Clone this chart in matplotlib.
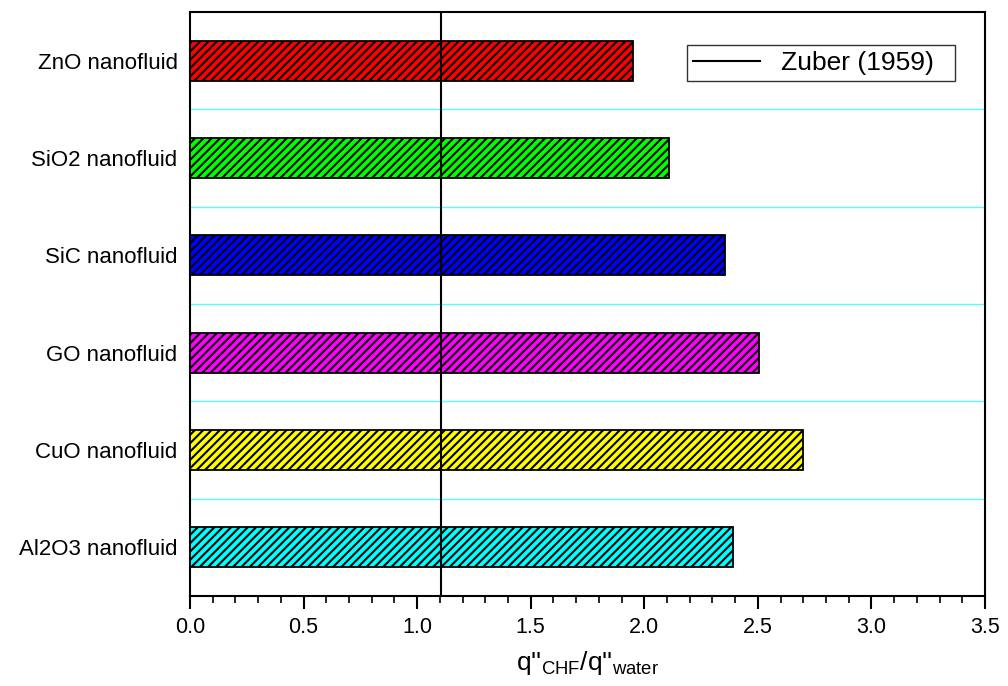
import matplotlib
matplotlib.use('Agg')
import matplotlib.pyplot as plt
from matplotlib.ticker import MultipleLocator

plt.rcParams['font.family'] = ['Liberation Sans', 'DejaVu Sans']
plt.rcParams['mathtext.fontset'] = 'custom'
plt.rcParams['mathtext.rm'] = 'Liberation Sans'
plt.rcParams['hatch.linewidth'] = 1.5

# data (top to bottom as drawn)
fluids = ['ZnO nanofluid', 'SiO2 nanofluid', 'SiC nanofluid',
          'GO nanofluid', 'CuO nanofluid', 'Al2O3 nanofluid']
chf_ratio = [1.95, 2.11, 2.355, 2.505, 2.70, 2.39]
bar_colors = ['#FF0000', '#00FF00', '#0000FF', '#FF00FF', '#FFFF00', '#00FFFF']
zuber = 1.105

fig = plt.figure(figsize=(10.08, 6.86), dpi=100)
ax = fig.add_axes([190/1008, 1 - 596/686, 795/1008, 584/686])

pos = list(range(len(fluids)))
ax.barh(pos, chf_ratio, height=0.41, color=bar_colors, edgecolor='black',
        linewidth=1.3, hatch='////', zorder=3)

# cyan separators between categories
for i in range(len(fluids) - 1):
    ax.axhline(i + 0.5, color='#55FFFF', linewidth=1.0, zorder=1)

ax.axvline(zuber, color='black', linewidth=1.5, zorder=4, label='Zuber (1959)  ')

ax.set_xlim(0, 3.5)
ax.set_ylim(len(fluids) - 0.5, -0.5)
ax.set_yticks(pos)
ax.set_yticklabels(fluids, fontsize=16)
ax.xaxis.set_major_locator(MultipleLocator(0.5))
ax.xaxis.set_minor_locator(MultipleLocator(0.1))
ax.xaxis.set_major_formatter(matplotlib.ticker.FormatStrFormatter('%.1f'))
ax.tick_params(axis='x', which='major', direction='out', length=9, width=1.5,
               labelsize=15.5, pad=6)
ax.tick_params(axis='x', which='minor', direction='out', length=5, width=1.2)
ax.tick_params(axis='y', length=0, pad=9)

for sp in ax.spines.values():
    sp.set_linewidth(1.5)

ax.set_xlabel(r"q''$_{\mathrm{CHF}}$/q''$_{\mathrm{water}}$", fontsize=19, labelpad=8)

leg = ax.legend(loc='upper left', bbox_to_anchor=(687/1008, 1 - 45/686),
                bbox_transform=fig.transFigure, fontsize=19, fancybox=False,
                framealpha=1, edgecolor='#333333', borderpad=0.22,
                borderaxespad=0, handlelength=2.55, handletextpad=0.8)
leg.get_frame().set_linewidth(1.0)

fig.savefig('out.png', dpi=100)
